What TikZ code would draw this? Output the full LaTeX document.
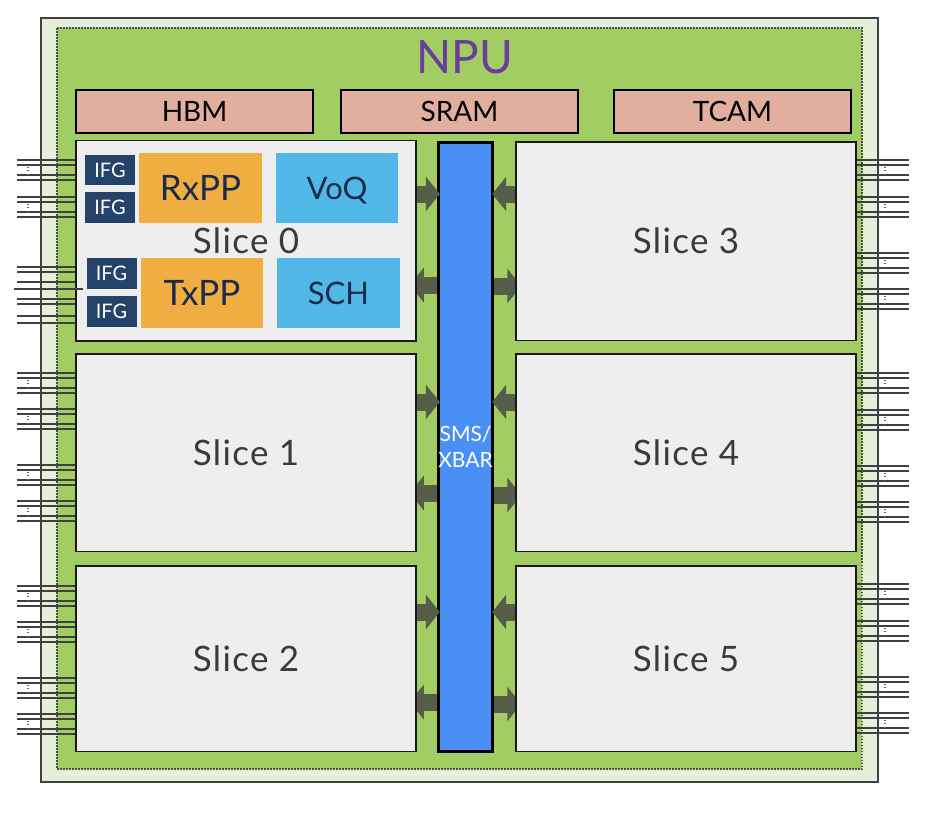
\documentclass[tikz,border=0pt]{standalone}
\usepackage{fontspec}
\setmainfont{Lato}
\newfontfamily\slicefont[LetterSpace=4]{Lato}
\usetikzlibrary{arrows.meta,calc}
\pgfdeclarelayer{background}
\pgfdeclarelayer{arrows}
\pgfsetlayers{background,arrows,main}
\definecolor{chipgreen}{HTML}{E5EFD9}
\definecolor{diegreen}{HTML}{A2CD63}
\definecolor{memred}{HTML}{E2AF9E}
\definecolor{slicegray}{HTML}{EEEEEE}
\definecolor{slicetext}{HTML}{3A3A3A}
\definecolor{ifgblue}{HTML}{25426B}
\definecolor{pporange}{HTML}{F0AD42}
\definecolor{qblue}{HTML}{52B8E8}
\definecolor{navytext}{HTML}{1C2B4A}
\definecolor{xbarblue}{HTML}{4A90F4}
\definecolor{busgray}{HTML}{565E4A}
\definecolor{npupurple}{HTML}{6A3D9A}
\definecolor{pinblue}{HTML}{4A6580}
\tikzset{
  slice/.style={draw=black!90, line width=1.5pt, fill=slicegray, minimum width=340pt,
    inner sep=0pt, text=slicetext, text depth=0pt, font=\slicefont\fontsize{35}{40}\selectfont},
  mem/.style={draw=black, line width=2.5pt, fill=memred, minimum width=237pt,
    minimum height=43pt, inner sep=0pt, text depth=0pt, font=\fontsize{28}{32}\selectfont},
  ifg/.style={fill=ifgblue, text=white, minimum width=50pt, minimum height=30.5pt,
    inner sep=0pt, text depth=0pt, font=\fontsize{20}{22}\selectfont},
  ppbox/.style={fill=pporange, text=navytext, minimum width=122.5pt, minimum height=69.7pt,
    inner sep=0pt, text depth=0pt, font=\fontsize{35}{40}\selectfont},
  qbox/.style={fill=qblue, text=navytext, minimum width=122.5pt, minimum height=69.7pt,
    inner sep=0pt, text depth=0pt, font=\fontsize{31}{36}\selectfont},
  xbar/.style={draw=black, line width=3pt, fill=xbarblue, minimum width=48pt,
    minimum height=609pt, inner sep=0pt, text=white, align=center,
    font=\fontsize{21}{26.5}\selectfont},
  bus/.style={draw=busgray, line width=17pt, -{Triangle[width=34pt,length=14pt]}},
  pin/.style={draw=black!75, line width=1.3pt},
  pindots/.style={draw=pinblue, line width=1.5pt, dash pattern=on 1.2pt off 2.4pt}
}
\begin{document}
\begin{tikzpicture}[x=1pt,y=-1pt]
        \useasboundingbox (0,0) rectangle (930,814);
        \begin{pgfonlayer}{background}
        % Chip and die
        \filldraw[fill=chipgreen,draw=black!75,line width=2.5pt] (41,18) rectangle (878,782);
        \filldraw[fill=diegreen,draw=black!70,line width=1.5pt,dash pattern=on 1.5pt off 1.5pt] (57,28) rectangle (862,769);
        % Switch fabric
        \node[xbar] (xbar) at (465.5,447) {SMS/\\XBAR};
        \end{pgfonlayer}
        \node[text=npupurple,text depth=0pt,font=\fontsize{46}{50}\selectfont] (npu) at (465,57) {NPU};
        % Memories
        \node[mem] (hbm) at (194.5,111.3) {HBM};
        \node[mem] (sram) at (459.5,111.3) {SRAM};
        \node[mem] (tcam) at (732.5,111.3) {TCAM};
        % Slices
        \node[slice,minimum height=200.5pt] (s0) at (246,240.7) {Slice 0};
        \node[slice,minimum height=197.5pt] (s1) at (246,452.5) {Slice 1};
        \node[slice,minimum height=185.5pt] (s2) at (246,658.5) {Slice 2};
        \node[slice,minimum height=198.5pt] (s3) at (686,241) {Slice 3};
        \node[slice,minimum height=197.5pt] (s4) at (686,452.5) {Slice 4};
        \node[slice,minimum height=185.5pt] (s5) at (686,658.5) {Slice 5};
        % Inside Slice 0
        \node[ifg] (ifg1) at (110,170) {IFG};
        \node[ifg] (ifg2) at (110,207.3) {IFG};
        \node[ifg] (ifg3) at (111.5,273.5) {IFG};
        \node[ifg] (ifg4) at (111.5,311.5) {IFG};
        \node[ppbox] (rxpp) at (200.5,187.9) {RxPP};
        \node[qbox] (voq) at (337,187.9) {VoQ};
        \node[ppbox] (txpp) at (202,292.9) {TxPP};
        \node[qbox] (sch) at (338.5,292.9) {SCH};
        % Ports, left side
        \foreach \y in {160,197,373,409,465,501,586,622,678,714} {
          \foreach \d in {0,5,15,20} \draw[pin] (17,\y+\d) -- (75,\y+\d);
          \draw[pindots] (28,\y+6.5) -- (28,\y+14);
        }
        \foreach \y in {267,272,282,299,304,316,323} \draw[pin] (17,\y) -- (75,\y);
        \draw[pin] (14,289) -- (83,289);
        % Ports, right side
        \foreach \y in {160,197,253,289,373,410,466,502,584,621,677,713} {
          \foreach \d in {0,5,15,20} \draw[pin] (857,\y+\d) -- (909,\y+\d);
          \draw[pindots] (885,\y+6.5) -- (885,\y+14);
        }
        % Slices to and from the fabric
        \begin{pgfonlayer}{arrows}
        \foreach \s/\yi/\yo in {s0/194/285,s1/402/493,s2/612/702} {
          \coordinate (in) at (0,\yi);
          \coordinate (out) at (0,\yo);
          \draw[bus] (\s.east |- in) -- ($(xbar.west |- in)+(3,0)$);
          \draw[bus] (xbar.west |- out) -- ($(\s.east |- out)+(-7,0)$);
        }
        \foreach \s/\yi/\yo in {s3/194/286,s4/402/495,s5/612/704} {
          \coordinate (in) at (0,\yi);
          \coordinate (out) at (0,\yo);
          \draw[bus] (\s.west |- in) -- ($(xbar.east |- in)+(-2,0)$);
          \draw[bus] (xbar.east |- out) -- ($(\s.west |- out)+(6,0)$);
        }
        \end{pgfonlayer}
\end{tikzpicture}
\end{document}
